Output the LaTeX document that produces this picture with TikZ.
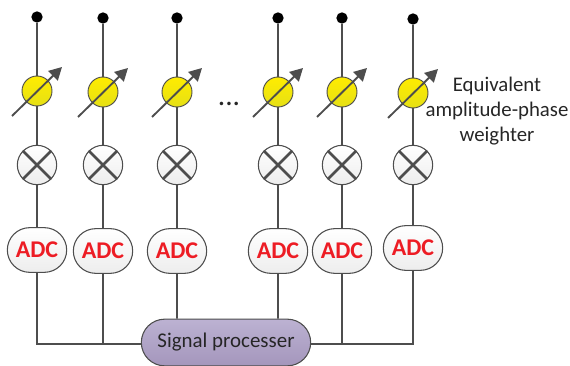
\documentclass[tikz,border=0pt]{standalone}
\usepackage{fontspec}
\setmainfont{Carlito}
\usetikzlibrary{shapes.misc,arrows.meta}

\definecolor{wiregray}{HTML}{4D4D4D}
\definecolor{adcred}{HTML}{ED1C24}
\definecolor{proctop}{HTML}{BCB2D2}
\definecolor{procbot}{HTML}{A496BC}
\definecolor{weighttop}{HTML}{FFEC00}
\definecolor{weightbot}{HTML}{E6E015}

\tikzset{
  wire/.style={draw=wiregray, line width=1.4pt},
  port/.style={circle, fill=black, inner sep=0pt, minimum size=8.5pt},
  weight/.style={circle, draw=wiregray, line width=0.7pt, top color=weighttop, bottom color=weightbot, inner sep=0pt, minimum size=22.5pt},
  mixer/.style={circle, draw=wiregray, line width=0.8pt, top color=white, bottom color=black!7, inner sep=0pt, minimum size=29.5pt},
  adc/.style={rounded rectangle, draw=wiregray, line width=0.8pt, top color=white, bottom color=black!7, inner sep=0pt, minimum width=44.5pt, minimum height=33.5pt, text=adcred, font=\fontsize{18}{20}\selectfont\bfseries},
  proc/.style={rounded rectangle, draw=wiregray, line width=0.8pt, top color=proctop, bottom color=procbot, inner sep=0pt, minimum width=127pt, minimum height=35pt, text=black!85, font=\fontsize{15.7}{18}\selectfont},
  tune/.style={draw=wiregray, line width=1.4pt, -{Triangle[length=9.5pt,width=10pt]}},
  cross/.style={draw=wiregray, line width=2pt},
  label/.style={text=black!85, align=center, font=\fontsize{15.6}{18.7}\selectfont}
}

\begin{document}
\begin{tikzpicture}[x=0.75pt, y=-0.75pt]
\useasboundingbox (0,0) rectangle (570,366);

\node[name=d1, port] at (37,17) {};
\node[name=d2, port] at (103,18) {};
\node[name=d3, port] at (177,18) {};
\node[name=d4, port] at (278,18) {};
\node[name=d5, port] at (342,18) {};
\node[name=d6, port] at (413,19) {};

\node[name=w1, weight] at (37,91) {};
\node[name=w2, weight] at (103,92) {};
\node[name=w3, weight] at (177,92) {};
\node[name=w4, weight] at (278,92) {};
\node[name=w5, weight] at (342,92) {};
\node[name=w6, weight] at (413,93) {};

\node[name=m1, mixer] at (37,165) {};
\node[name=m2, mixer] at (103,165) {};
\node[name=m3, mixer] at (177,165) {};
\node[name=m4, mixer] at (278,165) {};
\node[name=m5, mixer] at (342,165) {};
\node[name=m6, mixer] at (413,165) {};

\node[name=a1, adc] at (37,250) {ADC};
\node[name=a2, adc] at (103,251) {ADC};
\node[name=a3, adc] at (177,251) {ADC};
\node[name=a4, adc] at (278,251) {ADC};
\node[name=a5, adc] at (342,251) {ADC};
\node[name=a6, adc] at (413,248) {ADC};

\node[name=sp, proc] at (226,342.5) {Signal processer};
\node[name=dots, text=black!85, font=\fontsize{22}{24}\selectfont] at (229,104) {...};
\node[name=eq, label] at (497,111) {Equivalent\\amplitude-phase\\weighter};

\coordinate (b1) at (37,344);
\coordinate (b2) at (103,344);
\coordinate (b5) at (342,344);
\coordinate (b6) at (413,344);

\draw[wire] (d1) -- (w1);
\draw[wire] (d2) -- (w2);
\draw[wire] (d3) -- (w3);
\draw[wire] (d4) -- (w4);
\draw[wire] (d5) -- (w5);
\draw[wire] (d6) -- (w6);

\draw[wire] (w1) -- (m1);
\draw[wire] (w2) -- (m2);
\draw[wire] (w3) -- (m3);
\draw[wire] (w4) -- (m4);
\draw[wire] (w5) -- (m5);
\draw[wire] (w6) -- (m6);

\draw[wire] (m1) -- (a1);
\draw[wire] (m2) -- (a2);
\draw[wire] (m3) -- (a3);
\draw[wire] (m4) -- (a4);
\draw[wire] (m5) -- (a5);
\draw[wire] (m6) -- (a6);

\draw[wire] (a1) -- (b1) -- (b2 -| sp.west);
\draw[wire] (a2) -- (b2);
\draw[wire] (a3) -- (a3 |- sp.north);
\draw[wire] (a4) -- (a4 |- sp.north);
\draw[wire] (a5) -- (b5);
\draw[wire] (a6) -- (b6) -- (b5 -| sp.east);

\draw[cross] (m1.45) -- (m1.225);
\draw[cross] (m1.135) -- (m1.-45);
\draw[cross] (m2.45) -- (m2.225);
\draw[cross] (m2.135) -- (m2.-45);
\draw[cross] (m3.45) -- (m3.225);
\draw[cross] (m3.135) -- (m3.-45);
\draw[cross] (m4.45) -- (m4.225);
\draw[cross] (m4.135) -- (m4.-45);
\draw[cross] (m5.45) -- (m5.225);
\draw[cross] (m5.135) -- (m5.-45);
\draw[cross] (m6.45) -- (m6.225);
\draw[cross] (m6.135) -- (m6.-45);

\coordinate (t1) at (12,116);
\coordinate (h1) at (62,67);
\coordinate (t2) at (78,117);
\coordinate (h2) at (128,68);
\coordinate (t3) at (152,117);
\coordinate (h3) at (202,68);
\coordinate (t4) at (253,117);
\coordinate (h4) at (303,68);
\coordinate (t5) at (317,117);
\coordinate (h5) at (367,68);
\coordinate (t6) at (388,118);
\coordinate (h6) at (438,69);

\draw[tune] (t1) -- (h1);
\draw[tune] (t2) -- (h2);
\draw[tune] (t3) -- (h3);
\draw[tune] (t4) -- (h4);
\draw[tune] (t5) -- (h5);
\draw[tune] (t6) -- (h6);
\end{tikzpicture}
\end{document}
